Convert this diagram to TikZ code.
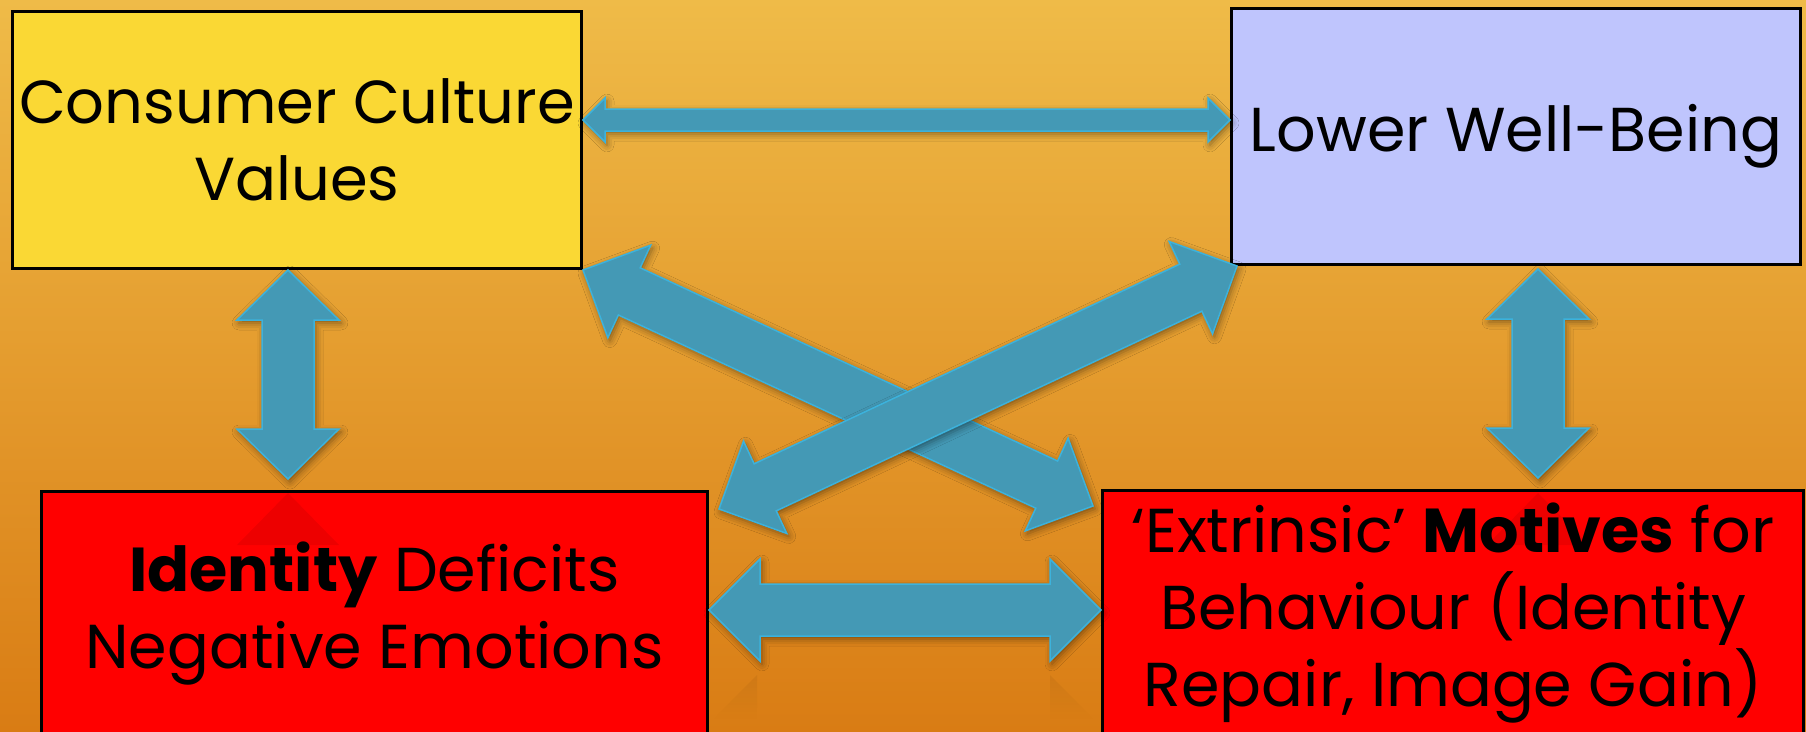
\documentclass[tikz,border=0pt]{standalone}
\usepackage{fontspec}
\setmainfont{Poppins}
\usetikzlibrary{calc,shadows.blur,fadings}
\definecolor{bgtop}{HTML}{EFBB48}
\definecolor{bgmid}{HTML}{E6A334}
\definecolor{bgbot}{HTML}{D97C14}
\definecolor{arrowfill}{HTML}{4499B5}
\definecolor{arrowline}{HTML}{3CB2DC}
\definecolor{cyellow}{HTML}{FAD834}
\definecolor{clav}{HTML}{BFC5FD}
\definecolor{cred}{HTML}{FF0000}
\tikzset{
  box/.style={draw=black, line width=3pt, inner sep=0pt, anchor=north west,
    align=center, font=\fontsize{62}{77}\selectfont},
  blockarrow/.style={fill=arrowfill, draw=arrowline, line width=1.5pt, line join=miter,
    blur shadow={shadow xshift=2pt, shadow yshift=-3pt, shadow blur radius=7pt, shadow opacity=45}},
  reflect/.style={fill=black, opacity=0.07},
  reflectfade/.style={fill=black, opacity=0.05, path fading=south}
}
\newcommand{\dblarrow}[5]{%
  \path ($(#1)!#3!(#2)$) coordinate (ha) ($(#2)!#3!(#1)$) coordinate (hb);
  \filldraw[blockarrow] (#1)
    -- ($(ha)!#4!90:(#1)$) -- ($(ha)!#5!90:(#1)$)
    -- ($(hb)!#5!-90:(#2)$) -- ($(hb)!#4!-90:(#2)$)
    -- (#2)
    -- ($(hb)!#4!90:(#2)$) -- ($(hb)!#5!90:(#2)$)
    -- ($(ha)!#5!-90:(#1)$) -- ($(ha)!#4!-90:(#1)$)
    -- cycle;}
\begin{document}
\begin{tikzpicture}[x=1pt,y=-1pt]
\shade[top color=bgtop, middle color=bgmid, bottom color=bgbot] (0,0) rectangle (1806,731);
\useasboundingbox (0,0) rectangle (1806,731);

\node[box, fill=cyellow, minimum width=569pt, minimum height=257pt, font=\fontsize{60.7}{77}\selectfont] (cc) at (11,10) {Consumer Culture\\Values};
\node[box, fill=clav, minimum width=569pt, minimum height=256pt] (lw) at (1230,7) {Lower Well-Being};
\node[box, fill=cred, minimum width=666pt, minimum height=245pt] (id) at (40,490) {\textbf{Identity} Deficits\\Negative Emotions};
\node[box, fill=cred, minimum width=701pt, minimum height=246pt] (em) at (1101,489) {‘Extrinsic’ \textbf{Motives} for\\Behaviour (Identity\\Repair, Image Gain)};

% faint reflections
\fill[reflect] (288,493) -- (237,545) -- (339,545) -- cycle;
\fill[reflect] (1538,493) -- (1487,545) -- (1589,545) -- cycle;
\fill[reflectfade] (757,675) -- (712,720) -- (757,720) -- cycle;
\fill[reflectfade] (1050,675) -- (1095,720) -- (1050,720) -- cycle;

% connector end points
\coordinate (t1) at (cc.east |- 0,120);
\coordinate (t2) at (lw.west |- 0,120);
\coordinate (l1) at (cc.south -| 288,0);
\coordinate (l2) at ($(id.north -| 288,0)+(0,-11)$);
\coordinate (r1) at ($(lw.south -| 1538,0)+(0,3)$);
\coordinate (r2) at ($(em.north -| 1538,0)+(0,-11)$);
\coordinate (b1) at (id.east |- 0,610);
\coordinate (b2) at (em.west |- 0,610);
\coordinate (d1) at (cc.south east);
\coordinate (d2) at ($(em.north west)+(-8,17)$);
\coordinate (e1) at ($(lw.south west)+(7,0)$);
\coordinate (e2) at ($(id.north east)+(10,19)$);

\dblarrow{t1}{t2}{22pt}{22pt}{11pt}
\dblarrow{l1}{l2}{50pt}{51pt}{26pt}
\dblarrow{r1}{r2}{50pt}{51pt}{26pt}
\dblarrow{b1}{b2}{51pt}{51pt}{26pt}
\dblarrow{d1}{d2}{51pt}{51pt}{26pt}
\dblarrow{e1}{e2}{51pt}{51pt}{26pt}
\end{tikzpicture}
\end{document}
